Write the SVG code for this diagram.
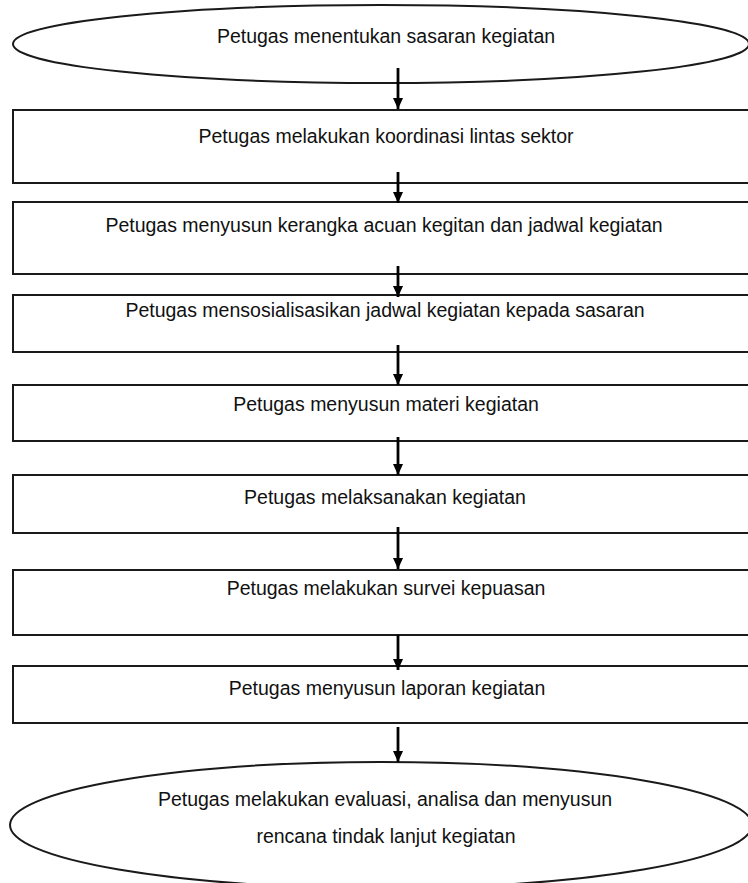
<svg xmlns="http://www.w3.org/2000/svg" width="748" height="883" viewBox="0 0 748 883">
<defs>
<style>
.shape{fill:#fff;stroke:#1a1a1a;stroke-width:2}
.lbl{font-family:"Liberation Sans",Arial,sans-serif;font-size:19.5px;fill:#111;text-anchor:middle}
.conn{stroke:#000;stroke-width:2.8;fill:none}
</style>
<marker id="ah" markerUnits="userSpaceOnUse" markerWidth="11" markerHeight="11" refX="12" refY="5.5" orient="auto" viewBox="0 0 12 11">
<path d="M0,0 L12,5.5 L0,11 z" fill="#000"/>
</marker>
</defs>
<rect width="748" height="883" fill="#fff"/>
<g id="n0"><ellipse class="shape" cx="381" cy="44" rx="368" ry="39"/><text class="lbl" x="386" y="43">Petugas menentukan sasaran kegiatan</text></g>
<g id="n1"><rect class="shape" x="13" y="110" width="760" height="73"/><text class="lbl" x="386" y="143">Petugas melakukan koordinasi lintas sektor</text></g>
<g id="n2"><rect class="shape" x="13" y="202" width="760" height="72"/><text class="lbl" x="384" y="232">Petugas menyusun kerangka acuan kegitan dan jadwal kegiatan</text></g>
<g id="n3"><rect class="shape" x="13" y="295" width="760" height="57"/><text class="lbl" x="385" y="317">Petugas mensosialisasikan jadwal kegiatan kepada sasaran</text></g>
<g id="n4"><rect class="shape" x="13" y="385" width="760" height="56"/><text class="lbl" x="386" y="411">Petugas menyusun materi kegiatan</text></g>
<g id="n5"><rect class="shape" x="13" y="475" width="760" height="58"/><text class="lbl" x="385" y="504">Petugas melaksanakan kegiatan</text></g>
<g id="n6"><rect class="shape" x="13" y="570" width="760" height="65"/><text class="lbl" x="386" y="595">Petugas melakukan survei kepuasan</text></g>
<g id="n7"><rect class="shape" x="13" y="666" width="760" height="57"/><text class="lbl" x="387" y="695">Petugas menyusun laporan kegiatan</text></g>
<g id="n8"><ellipse class="shape" cx="381" cy="825" rx="371" ry="63"/><text class="lbl" x="385" y="806">Petugas melakukan evaluasi, analisa dan menyusun</text><text class="lbl" x="386" y="843">rencana tindak lanjut kegiatan</text></g>
<g id="connectors">
<line class="conn" x1="398" y1="68" x2="398" y2="109" marker-end="url(#ah)"/>
<line class="conn" x1="398" y1="172" x2="398" y2="203" marker-end="url(#ah)"/>
<line class="conn" x1="398" y1="266" x2="398" y2="297" marker-end="url(#ah)"/>
<line class="conn" x1="398" y1="345" x2="398" y2="385" marker-end="url(#ah)"/>
<line class="conn" x1="398" y1="437" x2="398" y2="475" marker-end="url(#ah)"/>
<line class="conn" x1="398" y1="527" x2="398" y2="569" marker-end="url(#ah)"/>
<line class="conn" x1="398" y1="635" x2="398" y2="670" marker-end="url(#ah)"/>
<line class="conn" x1="398" y1="727" x2="398" y2="762" marker-end="url(#ah)"/>
</g>
</svg>
